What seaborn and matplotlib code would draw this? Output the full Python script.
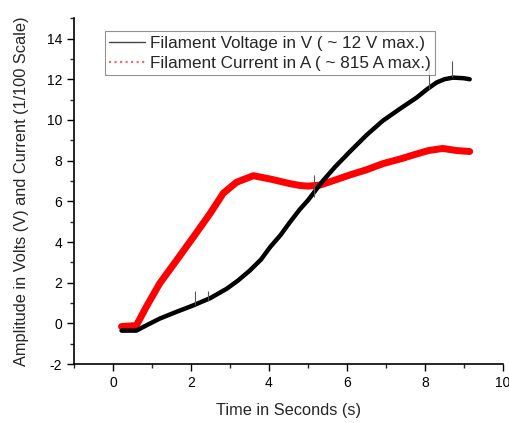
import matplotlib
matplotlib.use("Agg")
import matplotlib.pyplot as plt
import seaborn as sns
import pandas as pd
from matplotlib.ticker import MultipleLocator

# values
voltage_t = [0.22, 0.6, 0.9, 1.2, 1.6, 2.06, 2.5, 2.92, 3.2, 3.51, 3.8, 4.03, 4.3,
             4.54, 4.79, 5.0, 5.38, 5.7, 6.08, 6.5, 6.92, 7.4, 7.79, 8.05, 8.3,
             8.5, 8.72, 9.0, 9.15]
voltage_v = [-0.35, -0.35, -0.05, 0.24, 0.55, 0.89, 1.25, 1.71, 2.1, 2.6, 3.15, 3.75,
             4.35, 4.98, 5.6, 6.05, 7.0, 7.7, 8.45, 9.25, 9.96, 10.6, 11.1, 11.5,
             11.84, 12.0, 12.08, 12.05, 12.0]

current_t = [0.22, 0.6, 0.85, 1.2, 1.63, 2.06, 2.49, 2.83, 3.17, 3.6, 4.03, 4.54,
             4.8, 5.0, 5.31, 5.7, 6.08, 6.5, 6.92, 7.4, 7.79, 8.1, 8.46, 8.8, 9.15]
current_a = [-0.15, -0.1, 0.8, 1.97, 3.1, 4.24, 5.4, 6.4, 6.94, 7.26, 7.1, 6.87,
             6.78, 6.75, 6.8, 7.05, 7.3, 7.55, 7.85, 8.1, 8.33, 8.5, 8.6, 8.5, 8.45]

# thin glitch spikes on the voltage trace
spike_t = [2.1, 2.45, 5.15, 8.1, 8.7]
spike_lo = [0.9, 1.1, 6.2, 11.5, 12.1]
spike_hi = [1.6, 1.6, 7.3, 12.9, 12.9]

volt = pd.DataFrame({"t": voltage_t, "v": voltage_v})
curr = pd.DataFrame({"t": current_t, "v": current_a})

sns.set_style("ticks")
plt.rcParams["font.family"] = ["Liberation Sans", "DejaVu Sans"]
plt.rcParams["axes.unicode_minus"] = False

fig = plt.figure(figsize=(5.1, 4.23), dpi=100)
ax = fig.add_axes([0.145, 0.139, 0.841, 0.818])

sns.lineplot(data=volt, x="t", y="v", ax=ax, color="black", linewidth=3.2,
             label="Filament Voltage in V ( ~ 12 V max.)", zorder=3)
sns.lineplot(data=curr, x="t", y="v", ax=ax, color="#ff0000", linewidth=5,
             label="Filament Current in A ( ~ 815 A max.)", zorder=2)
ax.vlines(spike_t, spike_lo, spike_hi, color="#555555", linewidth=0.8, zorder=4)

ax.set_xlim(-1, 10)
ax.set_ylim(-2, 15)
ax.xaxis.set_major_locator(MultipleLocator(2))
ax.xaxis.set_minor_locator(MultipleLocator(1))
ax.yaxis.set_major_locator(MultipleLocator(2))
ax.yaxis.set_minor_locator(MultipleLocator(1))
ax.tick_params(which="major", direction="out", length=5, width=1, labelsize=10,
               colors="black")
ax.tick_params(which="minor", direction="out", length=3, width=1)
for side in ["top", "right"]:
    ax.spines[side].set_visible(False)
for side in ["left", "bottom"]:
    ax.spines[side].set_color("black")
    ax.spines[side].set_linewidth(1.2)

ax.set_xlabel("Time in Seconds (s)", fontsize=11.8, labelpad=9)
ax.set_ylabel("Amplitude in Volts (V) and Current (1/100 Scale)", fontsize=11.8,
              labelpad=13)

leg = ax.legend(loc="upper left", bbox_to_anchor=(0.072, 0.962), fontsize=12.3,
                frameon=True, fancybox=False, handlelength=2.1,
                borderpad=0.25, labelspacing=0.3, handletextpad=0.3,
                borderaxespad=0)
leg.get_frame().set_edgecolor("#777777")
leg.get_frame().set_linewidth(0.8)
h_volt, h_curr = leg.get_lines()
h_volt.set_linewidth(1.0)
h_volt.set_color("#444444")
h_curr.set_linewidth(1.5)
h_curr.set_linestyle(":")
h_curr.set_color("#ff6060")

fig.savefig("out.png", dpi=100)
